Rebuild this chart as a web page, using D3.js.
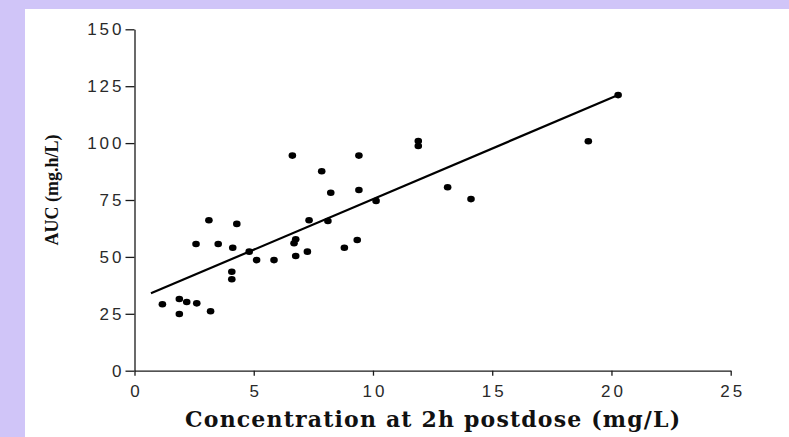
<!DOCTYPE html>
<html>
<head>
<meta charset="utf-8">
<script src="https://cdn.jsdelivr.net/npm/d3@7"></script>
<style>
  html, body { margin: 0; padding: 0; background: #d0c5f8; }
  svg { display: block; }
  .tick text { font-family: "Liberation Sans", Arial, sans-serif; font-size: 17px; letter-spacing: 3px; fill: #2a2a2a; }
</style>
</head>
<body>
<svg id="chart" width="789" height="437"></svg>
<script>

// Data
const concentration = [1.17, 1.88, 1.88, 2.19, 2.61, 3.19, 2.58, 3.12, 3.51, 4.12, 4.08, 4.08,
    4.29, 4.81, 5.12, 5.85, 6.62, 6.76, 6.69, 6.76, 7.25, 7.32, 7.85, 8.11, 8.23, 8.80,
    9.34, 9.41, 9.41, 10.13, 11.90, 11.90, 13.13, 14.11, 19.03, 20.28];
const auc = [29.2, 24.9, 31.5, 30.2, 29.6, 26.1, 55.7, 66.1, 55.7, 54.0, 43.5, 40.2,
    64.5, 52.3, 48.6, 48.6, 94.5, 57.7, 56.0, 50.4, 52.3, 66.1, 87.6, 65.8, 78.2, 54.0,
    57.4, 79.4, 94.5, 74.6, 100.9, 98.7, 80.6, 75.4, 100.8, 121.1];

// Regression line end points
const fitX = [0.69, 20.28];
const fitY = [34.0, 121.1];

const xTicks = [0, 5, 10, 15, 20, 25];
const yTicks = [0, 25, 50, 75, 100, 125, 150];

const xTitle = "Concentration at 2h postdose (mg/L)";
const yTitle = "AUC (mg.h/L)";

const svg = d3.select("#chart");

// White panel
svg.append("rect")
    .attr("x", 25).attr("y", 9)
    .attr("width", 789 - 25).attr("height", 437 - 9)
    .attr("fill", "#ffffff");

const x = d3.scaleLinear().domain([0, 25]).range([134.5, 730.7]);
const y = d3.scaleLinear().domain([0, 150]).range([370.7, 29.3]);

// Axes
const xAxis = svg.append("g")
    .attr("transform", `translate(0,${y(0)})`)
    .call(d3.axisBottom(x).tickValues(xTicks).tickSize(5).tickSizeOuter(0).tickPadding(9));
const yAxis = svg.append("g")
    .attr("transform", `translate(${x(0)},0)`)
    .call(d3.axisLeft(y).tickValues(yTicks).tickSize(9).tickSizeOuter(0).tickPadding(1));

[xAxis, yAxis].forEach(a => {
    a.select(".domain").attr("stroke", "#1a1a1a").attr("stroke-width", 1.3);
    a.selectAll(".tick line").attr("stroke", "#1a1a1a").attr("stroke-width", 1.3);
});
// centre x labels despite trailing letter-spacing
xAxis.selectAll(".tick text").attr("dx", 1.5);

// Regression line
const line = d3.line().x(d => x(d[0])).y(d => y(d[1]));
svg.append("path")
    .datum(d3.zip(fitX, fitY))
    .attr("d", line)
    .attr("fill", "none")
    .attr("stroke", "#000")
    .attr("stroke-width", 2.2);

// Points
svg.append("g")
    .selectAll("ellipse")
    .data(d3.zip(concentration, auc))
    .join("ellipse")
    .attr("cx", d => x(d[0]))
    .attr("cy", d => y(d[1]))
    .attr("rx", 3.8)
    .attr("ry", 3.3)
    .attr("fill", "#000");

// Axis titles
const xt = svg.append("text")
    .attr("x", (x(0) + x(25)) / 2)
    .attr("y", 427)
    .attr("text-anchor", "middle")
    .attr("font-family", "'DejaVu Serif', serif")
    .attr("font-weight", "bold")
    .attr("font-size", 17)
    .attr("fill", "#111")
    .text(xTitle);
// size the title so it spans the same width as in the original
const w = xt.node().getComputedTextLength();
xt.attr("font-size", Math.min(22, 17 * 495 / w));
xt.attr("textLength", 495).attr("lengthAdjust", "spacing");

svg.append("text")
    .attr("transform", `translate(58,190) rotate(-90)`)
    .attr("text-anchor", "middle")
    .attr("font-family", "'Liberation Serif', 'Times New Roman', serif")
    .attr("font-weight", "bold")
    .attr("font-size", 18)
    .attr("fill", "#111")
    .text(yTitle);

</script>
</body>
</html>
